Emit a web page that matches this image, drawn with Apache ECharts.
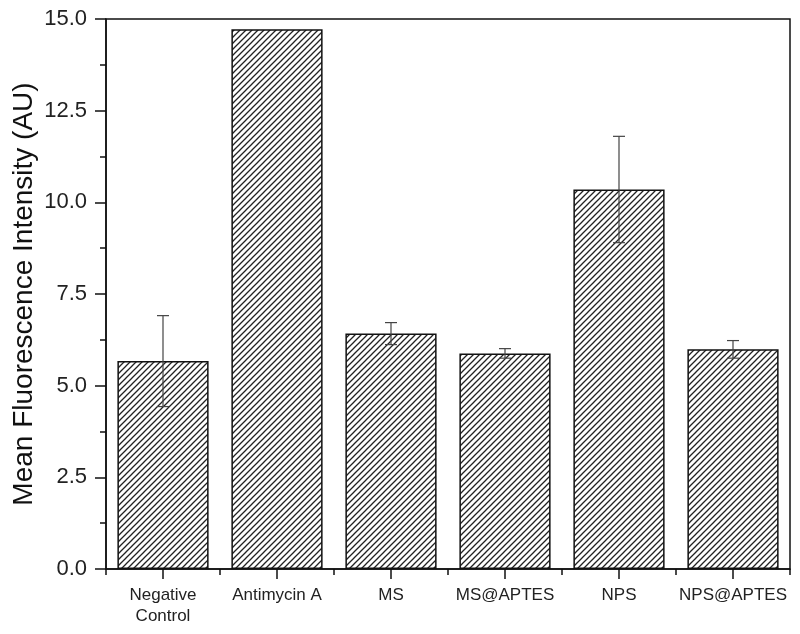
<!DOCTYPE html>
<html>
<head>
<meta charset="utf-8">
<script src="https://cdn.jsdelivr.net/npm/echarts@6/dist/echarts.min.js"></script>
<style>
  html, body { margin: 0; padding: 0; background: #fff; }
  #chart { width: 800px; height: 634px; }
</style>
</head>
<body>
<div id="chart"></div>
<script>
  // values
  var categories = ['Negative\nControl', 'Antimycin A', 'MS', 'MS@APTES', 'NPS', 'NPS@APTES']
  var meanValues = [5.67, 14.72, 6.42, 5.88, 10.35, 5.99]
  var errValues = [1.24, 0, 0.30, 0.13, 1.45, 0.24]

  // hatch fill, "/" lines
  function hatch () {
    var s = 6
    var c = document.createElement('canvas')
    c.width = s
    c.height = s
    var ctx = c.getContext('2d')
    ctx.fillStyle = '#fff'
    ctx.fillRect(0, 0, s, s)
    ctx.strokeStyle = '#222'
    ctx.lineWidth = 1.3
    ctx.beginPath()
    ctx.moveTo(0, s)
    ctx.lineTo(s, 0)
    ctx.moveTo(-1, 1)
    ctx.lineTo(1, -1)
    ctx.moveTo(s - 1, s + 1)
    ctx.lineTo(s + 1, s - 1)
    ctx.stroke()
    return c
  }

  var chart = echarts.init(document.getElementById('chart'))

  var options = {
    animation: false,
    grid: {
      left: 106,
      right: 10,
      top: 19,
      bottom: 65,
      outerBoundsMode: 'none',
      show: true,
      borderColor: '#111',
      borderWidth: 1.5
    },
    xAxis: [
      {
        type: 'category',
        data: categories,
        axisLine: { lineStyle: { color: '#111', width: 1.5 } },
        axisTick: { show: true, length: 6, lineStyle: { color: '#111', width: 1.5 } },
        axisLabel: {
          fontFamily: 'Liberation Sans, Arial, sans-serif',
          fontSize: 17,
          color: '#222',
          margin: 16,
          lineHeight: 21,
          interval: 0
        }
      },
      {
        type: 'category',
        data: categories,
        position: 'bottom',
        axisLine: { show: false },
        axisTick: { show: true, alignWithLabel: true, length: 10, lineStyle: { color: '#111', width: 1.5 } },
        axisLabel: { show: false }
      }
    ],
    yAxis: {
      type: 'value',
      min: 0,
      max: 15,
      interval: 2.5,
      name: 'Mean Fluorescence Intensity (AU)',
      nameLocation: 'middle',
      nameGap: 68,
      nameMoveOverlap: false,
      nameTextStyle: {
        fontFamily: 'Liberation Sans, Arial, sans-serif',
        fontSize: 28,
        color: '#111'
      },
      axisLine: { show: true, lineStyle: { color: '#111', width: 1.5 } },
      axisTick: { show: true, length: 11, lineStyle: { color: '#111', width: 1.5 } },
      minorTick: { show: true, splitNumber: 2, length: 6, lineStyle: { color: '#111', width: 1.5 } },
      splitLine: { show: false },
      axisLabel: {
        fontFamily: 'Liberation Sans, Arial, sans-serif',
        fontSize: 22,
        color: '#222',
        margin: 19,
        formatter: function (v) { return v.toFixed(1) }
      }
    },
    series: [
      {
        type: 'bar',
        data: meanValues,
        barCategoryGap: '20%',
        itemStyle: {
          color: { image: hatch(), repeat: 'repeat' },
          borderColor: '#111',
          borderWidth: 1.5
        }
      },
      {
        type: 'custom',
        data: meanValues.map(function (v, i) { return [i, v - errValues[i], v + errValues[i]] }),
        z: 5,
        renderItem: function (params, api) {
          var lo = api.coord([api.value(0), api.value(1)])
          var hi = api.coord([api.value(0), api.value(2)])
          if (hi[1] === lo[1]) return
          var w = 6
          var style = { stroke: '#444', lineWidth: 1.2 }
          return {
            type: 'group',
            children: [
              { type: 'line', shape: { x1: hi[0], y1: hi[1], x2: lo[0], y2: lo[1] }, style: style },
              { type: 'line', shape: { x1: hi[0] - w, y1: hi[1], x2: hi[0] + w, y2: hi[1] }, style: style },
              { type: 'line', shape: { x1: lo[0] - w, y1: lo[1], x2: lo[0] + w, y2: lo[1] }, style: style }
            ]
          }
        }
      }
    ]
  }
  chart.setOption(options)
</script>
</body>
</html>
